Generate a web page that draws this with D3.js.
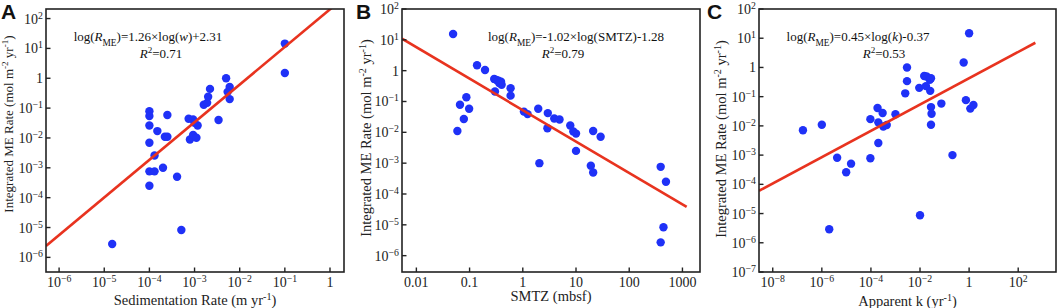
<!DOCTYPE html>
<html>
<head>
<meta charset="utf-8">
<script src="https://cdn.jsdelivr.net/npm/d3@7"></script>
<style>
  body { margin:0; background:#fff; }
  svg { display:block; font-family:"Liberation Serif","Times New Roman",serif; }
</style>
</head>
<body>
<div id="fig"></div>
<script>
// panel A : sedimentation rate (m/yr) vs integrated ME rate
const sedRate = [1.5e-5,5.1e-4,1e-4,1e-4,1e-4,1e-4,1e-4,1e-4,1.3e-4,1.3e-4,1.5e-4,2.0e-4,2.2e-4,2.5e-4,2.5e-4,4.1e-4,
  7.4e-4,9.3e-4,7.9e-4,9.3e-4,1.1e-3,1.17e-3,1.0e-3,1.6e-3,1.9e-3,2.0e-3,2.2e-3,3.4e-3,5.0e-3,5.4e-3,6.0e-3,6.0e-3,0.1,0.1]
const sedME = [2.8e-6,8.3e-6,0.079,0.054,0.026,0.0069,7.6e-4,2.5e-4,7.6e-4,2.6e-3,0.017,1.0e-3,0.011,0.011,0.059,5.0e-4,
  0.044,0.042,0.0089,0.0126,0.0102,0.026,0.032,0.13,0.15,0.24,0.44,0.040,1.0,0.35,0.51,0.20,14.5,1.5]

// panel B : SMTZ depth (mbsf) vs integrated ME rate
const smtz = [0.049,0.138,0.195,0.29,0.32,0.35,0.39,0.40,0.36,0.30,0.59,0.59,0.066,0.087,0.098,0.078,0.059,
  1.05,1.23,1.95,2.95,3.9,4.9,2.9,2.05,7.8,8.9,10,10,21,29,19,21,390,490,440,390]
const smtzME = [15.5,1.5,1.05,0.54,0.50,0.47,0.44,0.35,0.40,0.21,0.27,0.155,0.078,0.138,0.058,0.027,0.011,
  0.047,0.039,0.058,0.042,0.028,0.026,0.0135,0.001,0.0166,0.0107,0.0091,0.0025,0.011,0.0072,8.3e-4,5.0e-4,7.6e-4,2.5e-4,8.3e-6,2.7e-6]

// panel C : apparent k (1/yr) vs integrated ME rate
const appK = [1.7e-7,1e-6,2.0e-6,4.2e-6,9.8e-6,1.55e-5,9.5e-5,9.5e-5,1.86e-4,2.0e-4,2.0e-4,3.0e-4,3.2e-4,4.4e-4,1.0e-3,
  2.5e-3,2.95e-3,2.95e-3,9.3e-3,0.01,0.0148,0.0174,0.0186,0.025,0.028,0.026,0.028,0.0295,0.028,0.074,0.21,0.60,1.0,0.74,1.12,1.5]
const appKME = [0.0071,0.011,2.9e-6,8.1e-4,2.6e-4,5.1e-4,0.017,7.8e-4,0.041,0.0132,0.0026,0.0275,0.0095,0.0107,0.025,
  0.13,1.0,0.34,0.20,8.7e-6,0.51,0.23,0.49,0.38,0.43,0.158,0.044,0.026,0.011,0.058,1.0e-3,1.48,14.8,0.076,0.039,0.052]

// fitted lines: log(R) = slope*log(x) + icpt, drawn over [from, to]
const fitSlope = [1.26, -1.02, 0.45]
const fitIcpt = [2.31, -1.28, -0.37]
const fitFrom = [10**-6.29, 10**-2.27, 10**-8.56]
const fitTo = [10**0.35, 1200, 500]
const fitR2 = ["0.71", "0.79", "0.53"]

// tick values
const xTicksA = [-6,-5,-4,-3,-2,-1,0]
const xTicksB = [0.01,0.1,1,10,100,1000]
const xTicksC = [-8,-6,-4,-2,0,2]
const yTicksAB = [2,1,0,-1,-2,-3,-4,-5,-6]
const yTicksC = [2,1,0,-1,-2,-3,-4,-5,-6,-7]

const W = 1059, H = 308
const svg = d3.select("#fig").append("svg").attr("width", W).attr("height", H)

const blue = "#1f31f7", red = "#e8331f"

function powLabel(sel, p){
  if (p == 0) { sel.text("1"); return }
  sel.append("tspan").text("10")
  sel.append("tspan").attr("baseline-shift","super").attr("font-size","70%")
    .text(p < 0 ? "\u2212" + (-p) : p)
}

function panel(o){
  const x = d3.scaleLog().domain(o.xDom).range([o.left, o.right])
  const y = d3.scaleLog().domain(o.yDom).range([o.bottom, o.top])
  const g = svg.append("g")

  g.append("clipPath").attr("id","clip"+o.id)
    .append("rect").attr("x",o.left).attr("y",o.top)
    .attr("width",o.right-o.left).attr("height",o.bottom-o.top)

  // dots
  g.append("g").selectAll("circle")
    .data(o.xs.map((v,i)=>[v,o.ys[i]]))
    .enter().append("circle")
      .attr("cx", d=>x(d[0]))
      .attr("cy", d=>y(d[1]))
      .attr("r", 4.2)
      .style("fill", blue)

  // regression line
  const k = o.fit
  const ends = [fitFrom[k], fitTo[k]]
  g.append("line")
    .attr("clip-path","url(#clip"+o.id+")")
    .attr("x1", x(ends[0])).attr("y1", y(10**(fitSlope[k]*Math.log10(ends[0])+fitIcpt[k])))
    .attr("x2", x(ends[1])).attr("y2", y(10**(fitSlope[k]*Math.log10(ends[1])+fitIcpt[k])))
    .style("stroke", red).style("stroke-width", 2.6)

  // frame
  g.append("rect")
    .attr("x",o.left).attr("y",o.top)
    .attr("width",o.right-o.left).attr("height",o.bottom-o.top)
    .style("fill","none").style("stroke","#222").style("stroke-width",1.6)

  // x ticks (inside)
  const xt = g.append("g")
  o.xTicks.forEach(function(t){
    const v = o.xPow ? 10**t : t
    xt.append("line").attr("x1",x(v)).attr("x2",x(v))
      .attr("y1",o.bottom).attr("y2",o.bottom-4.5)
      .style("stroke","#222").style("stroke-width",1.4)
    const lab = xt.append("text").attr("x",x(v)).attr("y",o.bottom+15)
      .attr("text-anchor","middle").style("font-size","14px").style("fill","#222")
    if (o.xPow) powLabel(lab, t)
    else lab.text(v)
  })
  // y ticks (inside)
  const yt = g.append("g")
  o.yTicks.forEach(function(t){
    yt.append("line").attr("x1",o.left).attr("x2",o.left+4.5)
      .attr("y1",y(10**t)).attr("y2",y(10**t))
      .style("stroke","#222").style("stroke-width",1.4)
    const lab = yt.append("text").attr("x",o.left-3).attr("y",y(10**t)+5)
      .attr("text-anchor","end").style("font-size","14px").style("fill","#222")
    powLabel(lab, t)
  })

  // axis titles
  const xl = g.append("text").attr("x",(o.left+o.right)/2).attr("y",o.xTitleY)
    .attr("text-anchor","middle").style("font-size","14.5px").style("fill","#222")
  o.xTitle(xl)

  const yl = g.append("text")
    .attr("transform","translate(" + o.yTitleX + "," + o.yTitleMid + ") rotate(-90)")
    .attr("text-anchor","middle").style("font-size",o.yTitleSize).style("fill","#222")
  yl.append("tspan").text("Integrated ME Rate (mol m")
  yl.append("tspan").attr("baseline-shift","super").attr("font-size","70%").text("-2")
  yl.append("tspan").text(" yr")
  yl.append("tspan").attr("baseline-shift","super").attr("font-size","70%").text("-1")
  yl.append("tspan").text(")")

  // equation
  const eq = g.append("text").attr("x",o.eqX).attr("y",41)
    .attr("text-anchor","middle").style("font-size","13px").style("fill","#111")
  eq.append("tspan").text("log(")
  eq.append("tspan").style("font-style","italic").text("R")
  eq.append("tspan").attr("baseline-shift","sub").attr("font-size","72%").text("ME")
  eq.append("tspan").text(")=" + o.eq[0] + "log(")
  eq.append("tspan").style("font-style", o.eqItalic ? "italic" : "normal").text(o.eq[1])
  eq.append("tspan").text(")" + o.eq[2])

  const r2 = g.append("text").attr("x",o.r2X).attr("y",58)
    .attr("text-anchor","middle").style("font-size","13px").style("fill","#111")
  r2.append("tspan").style("font-style","italic").text("R")
  r2.append("tspan").attr("baseline-shift","super").attr("font-size","70%").text("2")
  r2.append("tspan").text("=" + fitR2[k])

  // panel letter
  svg.append("text").attr("x",o.letterX).attr("y",19)
    .style("font-family","'Liberation Sans',Arial,sans-serif")
    .style("font-weight","bold").style("font-size","21px").style("fill","#111")
    .text(o.letter)
}

function supTitle(main, sup, tail){
  return function(t){
    t.append("tspan").text(main)
    if (sup) {
      t.append("tspan").attr("baseline-shift","super").attr("font-size","70%").text(sup)
      t.append("tspan").text(tail)
    }
  }
}

panel({id:"A", letter:"A", letterX:1, left:46, right:344, top:9, bottom:272,
  xDom:[10**-6.29, 10**0.31], yDom:[10**-6.49, 10**2.32],
  xs:sedRate, ys:sedME, fit:0, xPow:true, xTicks:xTicksA, yTicks:yTicksAB,
  xTitle:supTitle("Sedimentation Rate (m yr","-1",")"), xTitleY:305,
  yTitleX:13, yTitleMid:124, yTitleSize:"13px",
  eq:["1.26\u00d7","w","+2.31"], eqItalic:true, eqX:148, r2X:161})

panel({id:"B", letter:"B", letterX:356, left:402, right:700, top:9, bottom:272,
  xDom:[10**-2.27, 10**3.33], yDom:[10**-6.53, 10**2],
  xs:smtz, ys:smtzME, fit:1, xPow:false, xTicks:xTicksB, yTicks:yTicksAB,
  xTitle:supTitle("SMTZ (mbsf)"), xTitleY:301,
  yTitleX:371, yTitleMid:138, yTitleSize:"14.5px",
  eq:["-1.02\u00d7","SMTZ","-1.28"], eqItalic:false, eqX:576, r2X:563})

panel({id:"C", letter:"C", letterX:707, left:759, right:1056, top:9, bottom:272,
  xDom:[10**-8.56, 10**3.54], yDom:[1e-7, 1e2],
  xs:appK, ys:appKME, fit:2, xPow:true, xTicks:xTicksC, yTicks:yTicksC,
  xTitle:supTitle("Apparent k (yr","-1",")"), xTitleY:306,
  yTitleX:726, yTitleMid:139, yTitleSize:"14.5px",
  eq:["0.45\u00d7","k","-0.37"], eqItalic:true, eqX:858, r2X:884})
</script>
</body>
</html>
